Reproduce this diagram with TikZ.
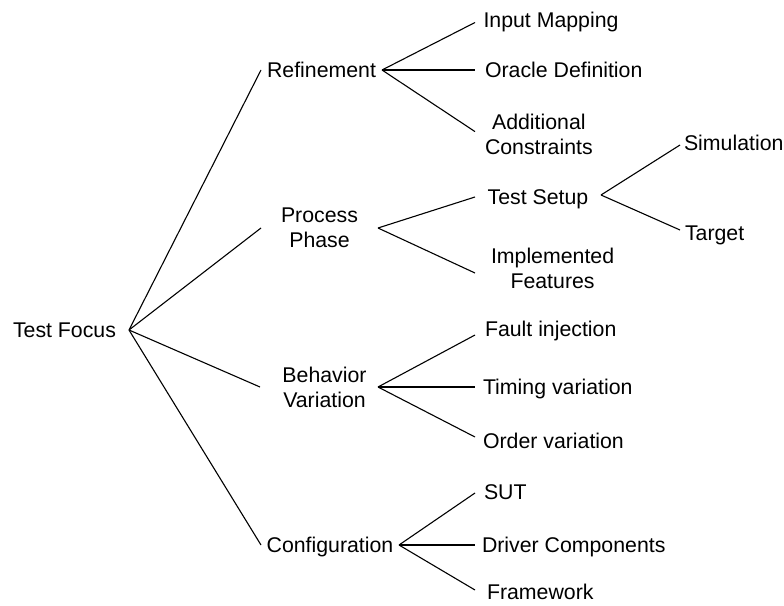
\documentclass[tikz,border=0pt]{standalone}
\usepackage{fontspec}
\setmainfont{Liberation Sans}
\begin{document}
\begin{tikzpicture}[x=1pt,y=-1pt,
  every node/.style={font=\fontsize{21.3}{25}\selectfont, inner sep=0pt, outer sep=0pt, text=black},
  one/.style={text height=15.3pt, text depth=0pt},
  two/.style={align=center},
  leaf/.style={anchor=west, inner xsep=10pt},
  link/.style={line width=1.1pt, black}]
\useasboundingbox (0,0) rectangle (784,605);
% root and first level
\node[one, minimum width=129pt] (tf) at (64.5,330) {Test Focus};
\node[one, minimum width=121pt] (ref) at (321.5,70) {Refinement};
\node[two, minimum width=117pt] (pp) at (319.5,228) {Process\\Phase};
\node[two, minimum width=117pt] (bv) at (324.5,387) {Behavior\\Variation};
\node[one, minimum width=138pt] (cfg) at (330,545) {Configuration};
% leaves of Refinement
\node[one, leaf, inner xsep=8.5pt] (im) at (475,19.5) {Input Mapping};
\node[one, leaf] (od) at (475,70) {Oracle Definition};
\node[two, leaf] (ac) at (475,134.6) {Additional\\Constraints};
% Process Phase
\node[one, minimum width=126pt] (ts) at (538,197) {Test Setup};
\node[two, leaf, inner xsep=16pt] (ifeat) at (475,268.5) {Implemented\\Features};
\node[one, leaf, inner xsep=4pt] (sim) at (680,143) {Simulation};
\node[one, leaf, inner xsep=5pt] (tgt) at (680,233) {Target};
% Behavior Variation
\node[one, leaf] (fi) at (475,329) {Fault injection};
\node[one, leaf, inner xsep=8pt] (tv) at (475,387) {Timing variation};
\node[one, leaf, inner xsep=8pt] (ov) at (475,441) {Order variation};
% Configuration
\node[one, leaf, inner xsep=9pt] (sut) at (475,492) {SUT};
\node[one, leaf, inner xsep=7pt] (dc) at (475,545) {Driver Components};
\node[one, leaf, inner xsep=12pt] (fw) at (475,592) {Framework};
% connectors
\draw[link] (tf.east) -- (ref.west);
\draw[link] (tf.east) -- (pp.west);
\draw[link] (tf.east) -- ([xshift=-6pt]bv.west);
\draw[link] (tf.east) -- (cfg.west);
\draw[link] (ref.east) -- ([yshift=-3pt]im.west);
\draw[link] (ref.east) -- (od.west);
\draw[link] (ref.east) -- ([yshift=3pt]ac.west);
\draw[link] (pp.east) -- (ts.west);
\draw[link] (pp.east) -- ([yshift=-4.5pt]ifeat.west);
\draw[link] ([yshift=2pt]ts.east) -- ([yshift=-2pt]sim.west);
\draw[link] ([yshift=2pt]ts.east) -- ([yshift=3pt]tgt.west);
\draw[link] ([xshift=-5pt]bv.east) -- ([yshift=-6pt]fi.west);
\draw[link] ([xshift=-5pt]bv.east) -- (tv.west);
\draw[link] ([xshift=-5pt]bv.east) -- ([yshift=4pt]ov.west);
\draw[link] (cfg.east) -- ([yshift=-1pt]sut.west);
\draw[link] (cfg.east) -- (dc.west);
\draw[link] (cfg.east) -- ([yshift=2pt]fw.west);
\end{tikzpicture}
\end{document}
